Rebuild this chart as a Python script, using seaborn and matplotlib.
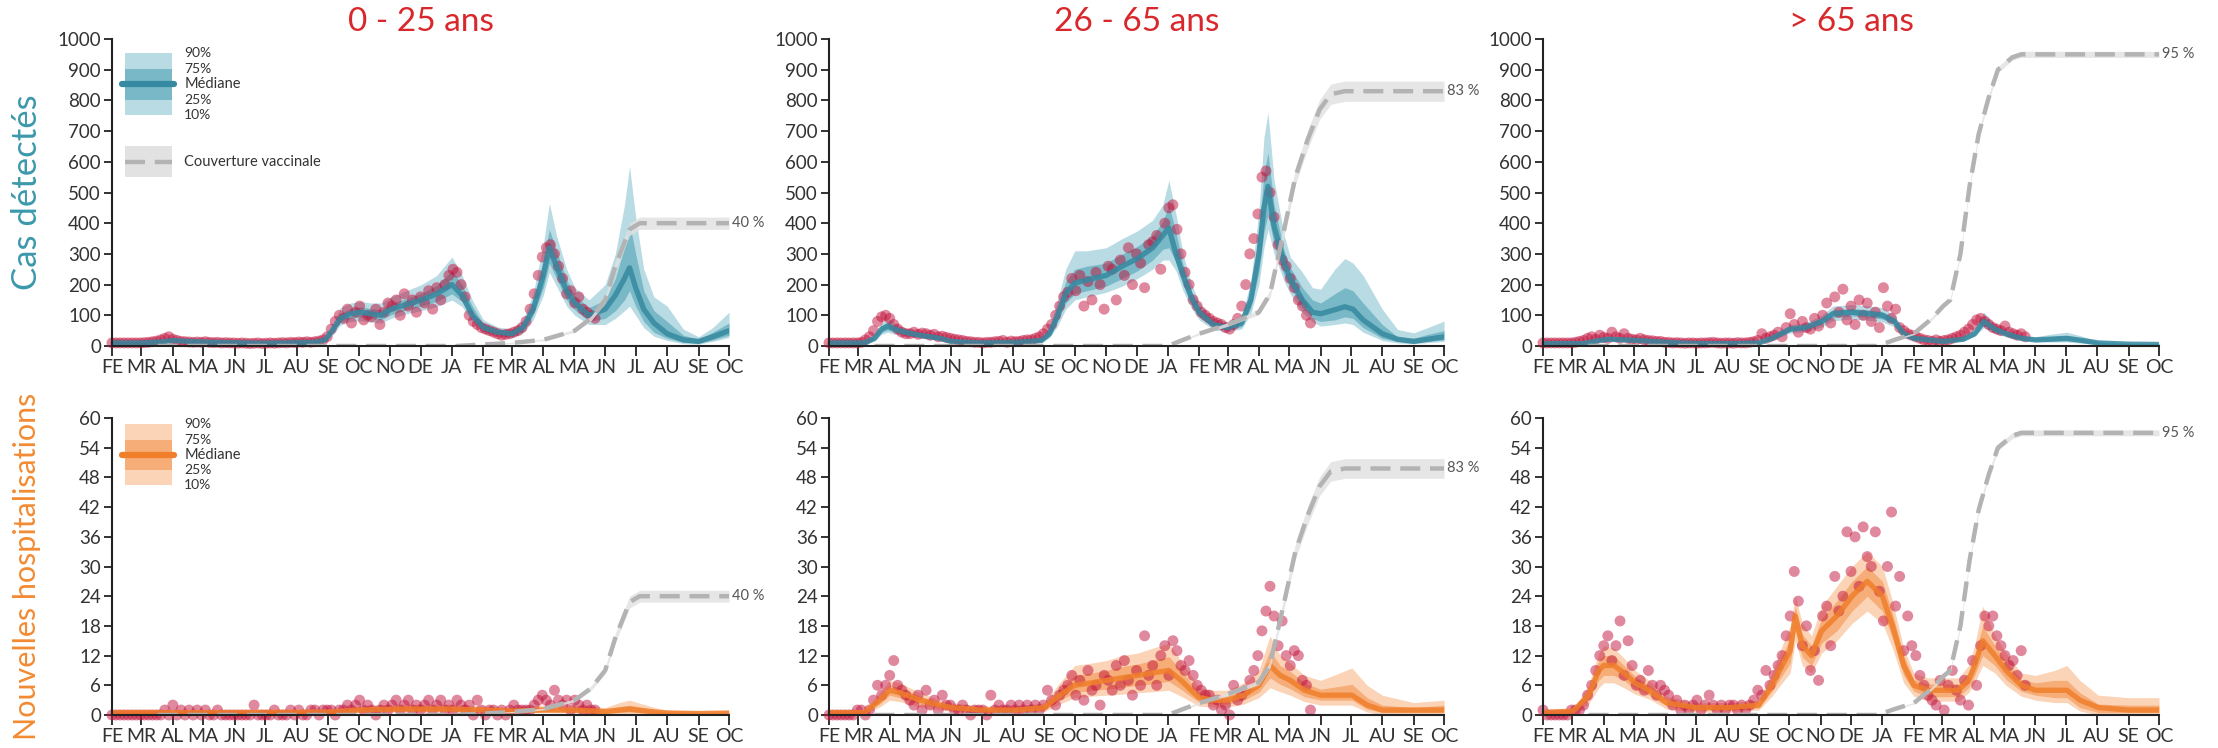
import numpy as np
import pandas as pd
import matplotlib
matplotlib.use("Agg")
import matplotlib.pyplot as plt
from matplotlib.patches import Rectangle
from matplotlib.lines import Line2D
import seaborn as sns

# ---------------- data ----------------
START = "2020-02-01"
END = "2021-10-01"
month_labels = ["FE", "MR", "AL", "MA", "JN", "JL", "AU", "SE", "OC", "NO", "DE",
                "JA", "FE", "MR", "AL", "MA", "JN", "JL", "AU", "SE", "OC"]
age_groups = ["0 - 25 ans", "26 - 65 ans", "> 65 ans"]
row_labels = ["Cas détectés", "Nouvelles hospitalisations"]
top_yticks = list(range(0, 1001, 100))
bottom_yticks = list(range(0, 61, 6))
legend_labels = ["90%", "75%", "Médiane", "25%", "10%"]
coverage_label = "Couverture vaccinale"

OBS_STEP = 4  # observed values every 4 days from 1 Feb 2020

# --- observed (red points) ---
cases_025_obs = [10, 10, 10, 10, 10, 10, 10, 10, 11, 12,
                 14, 16, 20, 25, 30, 22, 18, 15, 14, 13,
                 12, 13, 12, 14, 12, 11, 12, 10, 11, 10,
                 10, 9, 10, 9, 8, 9, 10, 8, 9, 10,
                 9, 10, 11, 10, 12, 11, 13, 12, 14, 12,
                 14, 16, 20, 30, 55, 80, 100, 90, 120, 75,
                 110, 130, 85, 100, 95, 120, 70, 110, 140, 130,
                 150, 100, 170, 130, 150, 110, 160, 140, 180, 120,
                 190, 150, 200, 230, 250, 240, 200, 160, 100, 80,
                 70, 60, 55, 50, 45, 40, 35, 38, 40, 45,
                 50, 60, 80, 120, 170, 230, 290, 320, 330, 300,
                 260, 220, 170, 180, 140, 160, 120, 110, 100, 90]
cases_2665_obs = [10, 10, 10, 10, 10, 10, 10, 10, 12, 20,
                  30, 50, 80, 95, 100, 90, 70, 55, 45, 40,
                  40, 45, 38, 42, 40, 35, 38, 30, 32, 28,
                  25, 22, 20, 18, 15, 14, 12, 12, 10, 12,
                  12, 14, 15, 18, 12, 16, 14, 15, 18, 20,
                  20, 25, 30, 40, 55, 70, 100, 130, 160, 175,
                  220, 180, 230, 130, 210, 150, 240, 200, 120, 260,
                  250, 150, 280, 230, 320, 200, 300, 270, 190, 330,
                  340, 360, 250, 400, 450, 460, 380, 300, 240, 200,
                  150, 130, 110, 100, 90, 80, 75, 70, 60, 55,
                  70, 90, 130, 200, 300, 350, 430, 550, 570, 500,
                  420, 330, 280, 260, 220, 190, 150, 130, 100, 75]
cases_65_obs = [10, 10, 10, 10, 10, 10, 10, 10, 12, 15,
                18, 25, 30, 22, 35, 28, 25, 45, 30, 25,
                40, 25, 22, 20, 25, 20, 18, 17, 15, 15,
                12, 12, 10, 11, 10, 9, 10, 10, 9, 10,
                10, 11, 12, 10, 9, 10, 10, 9, 11, 10,
                10, 12, 14, 18, 40, 25, 30, 35, 45, 30,
                60, 105, 70, 45, 80, 60, 55, 90, 65, 100,
                140, 75, 160, 110, 185, 85, 130, 70, 150, 100,
                140, 80, 110, 60, 190, 130, 90, 120, 60, 50,
                40, 35, 30, 25, 20, 18, 15, 20, 15, 18,
                20, 25, 30, 35, 45, 55, 70, 85, 90, 80,
                70, 60, 55, 50, 65, 45, 40, 35, 40, 30]
hosp_025_obs = [0, 0, 0, 0, 0, 0, 0, 0, 0, 0,
                0, 0, 0, 1, 0, 2, 0, 1, 0, 1,
                0, 1, 0, 1, 0, 0, 1, 0, 0, 0,
                0, 0, 0, 0, 0, 2, 0, 0, 0, 0,
                1, 0, 0, 0, 1, 0, 1, 0, 0, 1,
                1, 0, 1, 1, 1, 0, 1, 1, 2, 1,
                2, 3, 1, 2, 1, 0, 1, 2, 1, 2,
                3, 1, 2, 3, 1, 2, 1, 2, 3, 1,
                2, 3, 1, 2, 1, 3, 2, 1, 2, 0,
                3, 1, 0, 1, 1, 0, 1, 0, 1, 2,
                1, 1, 1, 1, 2, 3, 4, 3, 2, 5,
                3, 2, 3, 1, 3, 2, 1, 2, 1, 1]
hosp_2665_obs = [0, 0, 0, 0, 0, 0, 0, 1, 1, 0,
                 1, 3, 6, 4, 6, 8, 11, 6, 5, 4,
                 3, 2, 4, 1, 5, 2, 3, 1, 4, 2,
                 2, 1, 1, 2, 1, 0, 1, 1, 1, 0,
                 4, 1, 2, 1, 1, 2, 1, 2, 1, 2,
                 1, 2, 1, 2, 5, 3, 2, 4, 5, 6,
                 8, 4, 7, 3, 9, 5, 6, 2, 8, 7,
                 5, 10, 6, 11, 7, 4, 9, 6, 16, 8,
                 10, 6, 12, 14, 8, 15, 13, 10, 9, 11,
                 8, 6, 5, 4, 4, 2, 3, 1, 2, 0,
                 6, 3, 4, 5, 7, 9, 12, 17, 21, 26,
                 20, 14, 19, 12, 10, 13, 12, 7, 6, 1]
hosp_65_obs = [1, 0, 0, 0, 0, 0, 0, 1, 1, 1,
               2, 4, 6, 9, 12, 14, 16, 11, 14, 19,
               8, 15, 10, 6, 7, 5, 9, 6, 4, 6,
               5, 4, 2, 3, 1, 2, 1, 2, 3, 1,
               2, 4, 2, 1, 2, 1, 2, 2, 1, 2,
               1, 2, 3, 5, 4, 9, 6, 8, 10, 12,
               16, 20, 29, 23, 14, 18, 9, 13, 7, 20,
               22, 14, 28, 21, 24, 37, 29, 36, 26, 38,
               32, 30, 37, 25, 19, 30, 41, 22, 28, 13,
               20, 14, 12, 8, 6, 4, 3, 2, 7, 1,
               6, 9, 5, 3, 7, 2, 11, 6, 14, 20,
               18, 20, 16, 14, 12, 10, 11, 8, 13, 6]

# --- model quantiles (days since 1 Feb 2020) ---
cases_025_days = [0, 30, 50, 60, 75, 100, 150, 200, 210, 218, 225, 235, 245, 255, 265,
                  275, 290, 305, 320, 335, 345, 355, 366, 380, 394, 405, 415, 425, 431, 438,
                  448, 456, 470, 486, 496, 505, 510, 516, 524, 534, 547, 563, 578, 592, 608]
cases_025_med = [10, 10, 14, 18, 15, 12, 9, 12, 20, 55, 90, 105, 110, 105, 100,
                 120, 135, 150, 170, 200, 165, 100, 60, 45, 40, 60, 120, 230, 320, 260,
                 180, 140, 100, 120, 165, 220, 255, 190, 120, 75, 40, 20, 15, 30, 50]
cases_025_q90 = [14, 14, 20, 25, 20, 16, 13, 16, 28, 75, 125, 140, 145, 140, 140,
                 160, 180, 200, 230, 290, 230, 150, 85, 62, 55, 85, 170, 330, 465, 360,
                 250, 190, 150, 200, 300, 460, 585, 420, 250, 160, 130, 55, 30, 60, 110]
cases_025_q75 = [12, 12, 17, 21, 17, 14, 11, 14, 24, 65, 105, 122, 127, 122, 118,
                 138, 155, 172, 198, 245, 200, 130, 72, 53, 48, 72, 145, 280, 380, 310,
                 215, 165, 125, 150, 220, 320, 400, 300, 180, 115, 80, 35, 22, 45, 75]
cases_025_q25 = [8, 8, 11, 15, 13, 10, 7, 10, 16, 45, 78, 90, 95, 90, 85,
                 102, 118, 130, 145, 170, 145, 92, 50, 38, 33, 50, 100, 190, 270, 220,
                 150, 118, 80, 90, 115, 150, 180, 130, 80, 45, 25, 12, 9, 20, 35]
cases_025_q10 = [6, 6, 9, 12, 11, 8, 6, 8, 13, 38, 68, 80, 82, 78, 75,
                 90, 105, 115, 128, 150, 128, 80, 42, 32, 28, 42, 85, 165, 240, 195,
                 130, 100, 70, 70, 90, 115, 130, 100, 60, 32, 18, 8, 6, 15, 28]

cases_2665_days = [0, 35, 45, 52, 58, 65, 75, 90, 110, 121, 150, 185, 210, 218, 226,
                   234, 243, 255, 274, 290, 305, 320, 330, 336, 343, 350, 358, 366, 380, 394,
                   408, 417, 425, 430, 434, 440, 450, 456, 468, 478, 486, 500, 510, 518, 528,
                   547, 562, 578, 592, 608]
cases_2665_med = [10, 10, 25, 55, 65, 55, 45, 35, 25, 15, 10, 12, 18, 40, 100,
                  170, 205, 215, 230, 260, 285, 320, 360, 385, 300, 230, 160, 110, 70, 60,
                  75, 150, 300, 450, 520, 390, 270, 220, 150, 110, 105, 118, 128, 120, 85,
                  40, 22, 15, 22, 30]
cases_2665_q90 = [14, 14, 35, 75, 90, 75, 58, 45, 33, 21, 15, 18, 28, 60, 150,
                  250, 310, 310, 320, 350, 375, 410, 460, 540, 430, 300, 205, 140, 90, 78,
                  100, 210, 440, 680, 760, 540, 360, 290, 240, 190, 185, 250, 285, 270, 230,
                  120, 54, 43, 60, 81]
cases_2665_q75 = [12, 12, 30, 65, 78, 65, 52, 40, 29, 18, 12, 15, 23, 50, 125,
                  210, 250, 260, 270, 300, 325, 360, 405, 460, 370, 265, 180, 125, 80, 69,
                  88, 180, 370, 560, 630, 460, 310, 255, 190, 150, 140, 170, 190, 180, 140,
                  70, 30, 25, 38, 50]
cases_2665_q25 = [8, 8, 20, 45, 52, 45, 38, 30, 21, 12, 8, 9, 14, 32, 80,
                  140, 170, 180, 195, 220, 245, 280, 315, 320, 275, 200, 140, 95, 60, 52,
                  63, 125, 240, 370, 430, 330, 230, 190, 125, 90, 80, 85, 95, 90, 60,
                  25, 15, 10, 15, 20]
cases_2665_q10 = [6, 6, 16, 38, 45, 38, 33, 26, 18, 10, 6, 7, 11, 27, 65,
                  120, 150, 160, 175, 195, 220, 250, 280, 280, 245, 180, 125, 85, 53, 46,
                  56, 105, 200, 320, 380, 300, 210, 170, 110, 78, 65, 70, 75, 70, 45,
                  18, 10, 7, 11, 15]

cases_65_days = [0, 40, 55, 65, 80, 95, 121, 150, 185, 213, 226, 244, 259, 275, 286,
                 305, 323, 335, 347, 356, 366, 395, 415, 426, 435, 446, 457, 472, 486, 500,
                 517, 532, 548, 578, 608]
cases_65_med = [8, 8, 18, 22, 20, 18, 12, 8, 8, 10, 25, 55, 60, 80, 105,
                110, 105, 100, 80, 40, 25, 15, 22, 40, 80, 55, 40, 25, 20, 22,
                25, 18, 10, 6, 5]
cases_65_q90 = [10, 10, 24, 29, 26, 22, 15, 10, 10, 13, 32, 70, 75, 100, 130,
                135, 130, 125, 100, 52, 32, 19, 28, 50, 110, 72, 52, 33, 30, 38,
                45, 32, 16, 10, 9]
cases_65_q75 = [9, 9, 21, 26, 23, 20, 13, 9, 9, 11, 28, 62, 67, 90, 118,
                122, 117, 112, 90, 46, 28, 17, 25, 45, 95, 63, 46, 29, 25, 30,
                34, 24, 13, 8, 7]
cases_65_q25 = [7, 7, 15, 18, 17, 16, 11, 7, 7, 9, 22, 48, 53, 70, 92,
                98, 93, 88, 70, 34, 22, 13, 19, 35, 68, 47, 34, 21, 16, 16,
                17, 12, 7, 4, 3]
cases_65_q10 = [6, 6, 13, 16, 15, 14, 10, 6, 6, 8, 19, 42, 47, 62, 82,
                88, 83, 78, 62, 30, 19, 11, 17, 31, 60, 41, 30, 18, 13, 13,
                13, 9, 5, 3, 2]

hosp_025_days = [0, 60, 120, 213, 243, 280, 335, 366, 394, 425, 455, 486, 500, 510, 518,
                 535, 547, 578, 608]
hosp_025_med = [0.5, 0.5, 0.5, 0.6, 1.0, 1.2, 1.2, 1.0, 0.8, 1.0, 1.0, 0.7, 1.0, 1.2, 1.0,
                0.6, 0.4, 0.3, 0.4]
hosp_025_q90 = [0.8, 0.8, 0.8, 1.0, 1.8, 2.2, 2.2, 1.8, 1.5, 2.0, 2.0, 1.5, 2.5, 3.0, 2.5,
                1.5, 1.0, 0.8, 0.9]
hosp_025_q75 = [0.7, 0.7, 0.7, 0.8, 1.4, 1.7, 1.7, 1.4, 1.2, 1.5, 1.5, 1.1, 1.7, 2.0, 1.7,
                1.0, 0.7, 0.5, 0.6]
hosp_025_q25 = [0.3, 0.3, 0.3, 0.4, 0.7, 0.8, 0.8, 0.7, 0.5, 0.7, 0.6, 0.4, 0.5, 0.6, 0.5,
                0.3, 0.2, 0.1, 0.2]
hosp_025_q10 = [0.2, 0.2, 0.2, 0.3, 0.5, 0.6, 0.6, 0.5, 0.4, 0.5, 0.4, 0.2, 0.3, 0.3, 0.3,
                0.1, 0.1, 0.0, 0.1]

hosp_2665_days = [0, 35, 50, 60, 70, 90, 110, 121, 150, 185, 213, 228, 243, 260, 274,
                  290, 305, 320, 336, 348, 358, 366, 380, 394, 410, 425, 436, 446, 456, 470,
                  486, 505, 517, 532, 547, 578, 608]
hosp_2665_med = [0.5, 0.5, 3.0, 5.0, 4.5, 3.0, 2.0, 1.5, 1.0, 1.0, 1.5, 4.0, 6.0, 6.5, 7.0,
                 7.5, 8.0, 8.5, 9.0, 7.0, 5.0, 3.5, 3.0, 3.0, 4.0, 6.0, 10.0, 8.0, 7.0, 5.0,
                 4.0, 4.0, 4.0, 2.0, 1.0, 1.0, 1.0]
hosp_2665_q90 = [0.8, 0.8, 4.5, 7.0, 6.5, 4.5, 3.0, 2.5, 1.8, 1.8, 2.5, 6.5, 10.0, 10.5, 11.0,
                 12.0, 12.5, 13.5, 14.5, 11.0, 8.0, 5.5, 5.0, 5.0, 6.5, 9.0, 16.0, 12.0, 10.5, 8.0,
                 7.0, 8.5, 9.5, 6.0, 4.0, 2.5, 3.0]
hosp_2665_q75 = [0.7, 0.7, 3.8, 6.0, 5.5, 3.8, 2.5, 2.0, 1.4, 1.4, 2.0, 5.2, 8.0, 8.5, 9.0,
                 9.8, 10.3, 11.0, 11.8, 9.0, 6.5, 4.5, 4.0, 4.0, 5.3, 7.5, 13.0, 10.0, 8.8, 6.5,
                 5.2, 5.8, 6.2, 3.5, 2.0, 1.5, 2.0]
hosp_2665_q25 = [0.3, 0.3, 2.2, 4.0, 3.5, 2.2, 1.5, 1.0, 0.6, 0.6, 1.0, 3.0, 4.5, 5.0, 5.2,
                 5.6, 6.0, 6.3, 6.8, 5.2, 3.7, 2.6, 2.2, 2.2, 3.0, 4.6, 7.5, 6.2, 5.3, 3.7,
                 3.0, 3.0, 3.0, 1.2, 0.5, 0.5, 0.5]
hosp_2665_q10 = [0.2, 0.2, 1.6, 3.0, 2.7, 1.6, 1.0, 0.7, 0.4, 0.4, 0.7, 2.2, 3.5, 3.8, 4.0,
                 4.2, 4.5, 4.7, 5.0, 3.8, 2.7, 1.8, 1.6, 1.6, 2.2, 3.5, 5.5, 4.7, 4.0, 2.7,
                 2.0, 2.0, 2.0, 0.6, 0.0, 0.0, 0.0]

hosp_65_days = [0, 30, 45, 55, 60, 70, 80, 91, 105, 122, 150, 185, 213, 226, 236,
                244, 249, 256, 265, 275, 290, 305, 320, 335, 345, 356, 366, 380, 395, 410,
                420, 426, 434, 446, 457, 472, 486, 505, 517, 530, 548, 578, 608]
hosp_65_med = [0.5, 0.8, 4.0, 9.0, 10.0, 10.0, 8.5, 6.5, 5.0, 2.5, 1.5, 1.5, 2.0, 6.0, 10.0,
               13.0, 20.0, 14.0, 12.0, 17.0, 20.0, 24.0, 27.0, 24.0, 18.0, 10.0, 6.0, 5.0, 5.0, 5.0,
               7.0, 10.0, 15.0, 12.0, 9.0, 6.0, 5.0, 5.0, 5.0, 3.0, 1.5, 1.0, 1.0]
hosp_65_q90 = [0.8, 1.2, 6.0, 12.5, 14.0, 13.5, 11.5, 9.0, 7.0, 3.8, 2.5, 2.5, 3.0, 8.5, 14.0,
               18.0, 24.0, 18.5, 16.0, 22.0, 26.0, 30.0, 33.0, 30.0, 23.0, 13.5, 8.5, 7.5, 7.5, 7.5,
               10.0, 14.0, 22.0, 16.0, 12.5, 8.5, 8.0, 9.0, 10.0, 7.0, 4.0, 3.5, 3.5]
hosp_65_q75 = [0.7, 1.0, 5.0, 11.0, 12.0, 12.0, 10.0, 7.8, 6.0, 3.2, 2.0, 2.0, 2.6, 7.2, 12.0,
               15.5, 22.0, 16.3, 14.0, 19.5, 23.0, 27.0, 30.0, 27.0, 20.5, 12.0, 7.2, 6.3, 6.3, 6.3,
               8.5, 12.0, 18.0, 14.0, 10.8, 7.2, 6.5, 7.0, 7.0, 4.5, 2.2, 2.0, 2.0]
hosp_65_q25 = [0.3, 0.6, 3.0, 7.0, 8.0, 8.0, 7.0, 5.2, 4.0, 1.8, 1.0, 1.0, 1.4, 4.8, 8.0,
               10.5, 17.0, 11.7, 10.0, 14.5, 17.0, 21.0, 24.0, 21.0, 15.5, 8.0, 4.8, 3.7, 3.7, 3.7,
               5.5, 8.0, 12.0, 10.0, 7.2, 4.8, 4.0, 3.5, 3.5, 1.5, 0.5, 0.5, 0.5]
hosp_65_q10 = [0.2, 0.4, 2.2, 5.5, 6.5, 6.5, 5.5, 4.2, 3.2, 1.2, 0.6, 0.6, 1.0, 3.8, 6.5,
               8.5, 15.0, 10.0, 8.5, 12.5, 15.0, 18.5, 21.0, 18.5, 13.5, 6.5, 3.8, 2.8, 2.8, 2.8,
               4.5, 6.5, 10.0, 8.5, 6.0, 3.8, 3.0, 2.5, 2.5, 0.8, 0.0, 0.0, 0.0]

# --- vaccine coverage (%), with uncertainty half-width (%) ---
cov_025_days = [45, 340, 366, 394, 425, 456, 472, 486, 496, 503, 510, 520, 608]
cov_025_pct = [0, 0, 0.5, 1, 2, 5, 9, 15, 26, 32, 38, 40, 40]
cov_025_err = [0, 0, 0.1, 0.2, 0.3, 0.5, 0.8, 1.0, 1.5, 1.8, 2.0, 2.0, 2.0]
cov_2665_days = [45, 335, 350, 366, 394, 425, 436, 450, 461, 473, 485, 496, 510, 608]
cov_2665_pct = [0, 0, 2, 4, 7, 11, 17, 38, 55, 67, 77, 82, 83, 83]
cov_2665_err = [0, 0, 0.2, 0.4, 0.6, 0.8, 1.2, 2.0, 2.5, 3.0, 3.2, 3.3, 3.3, 3.3]
cov_65_days = [45, 330, 347, 366, 384, 395, 402, 412, 421, 430, 440, 449, 463, 472, 608]
cov_65_pct = [0, 0, 2, 4, 9, 13, 15, 30, 52, 69, 81, 90, 94, 95, 95]
cov_65_err = [0, 0, 0.2, 0.3, 0.5, 0.6, 0.7, 0.8, 0.9, 1.0, 1.0, 1.0, 1.0, 1.0, 1.0]

# ---------------- style ----------------
sns.set_theme(style="ticks")
plt.rcParams["font.family"] = ["Lato", "DejaVu Sans"]

TEAL = dict(light="#b8dbe4", mid="#79b8c6", line="#3589a0")
ORANGE = dict(light="#fbd3b6", mid="#f6ad78", line="#f07e2b")
RED_PTS = "#c2123c"
COV_LINE = "#b3b3b3"
COV_BAND = "#e2e2e2"
TITLE_RED = "#d8282c"
LABEL_TEAL = "#3b98ab"
LABEL_ORANGE = "#f28b32"
TXT = "#333333"

W, H = 2218, 748
fig = plt.figure(figsize=(W / 100, H / 100), dpi=100)

col_px = [(112, 729), (829, 1444), (1543, 2159)]
row_px = [(39, 346), (418, 715)]

start = pd.Timestamp(START)
months = pd.date_range(START, END, freq="MS")
tick_days = np.asarray((months - start).days)
xmax = (pd.Timestamp(END) - start).days

panels = {
    (0, 0): dict(obs=cases_025_obs, days=cases_025_days, med=cases_025_med, q10=cases_025_q10,
                 q25=cases_025_q25, q75=cases_025_q75, q90=cases_025_q90),
    (0, 1): dict(obs=cases_2665_obs, days=cases_2665_days, med=cases_2665_med, q10=cases_2665_q10,
                 q25=cases_2665_q25, q75=cases_2665_q75, q90=cases_2665_q90),
    (0, 2): dict(obs=cases_65_obs, days=cases_65_days, med=cases_65_med, q10=cases_65_q10,
                 q25=cases_65_q25, q75=cases_65_q75, q90=cases_65_q90),
    (1, 0): dict(obs=hosp_025_obs, days=hosp_025_days, med=hosp_025_med, q10=hosp_025_q10,
                 q25=hosp_025_q25, q75=hosp_025_q75, q90=hosp_025_q90),
    (1, 1): dict(obs=hosp_2665_obs, days=hosp_2665_days, med=hosp_2665_med, q10=hosp_2665_q10,
                 q25=hosp_2665_q25, q75=hosp_2665_q75, q90=hosp_2665_q90),
    (1, 2): dict(obs=hosp_65_obs, days=hosp_65_days, med=hosp_65_med, q10=hosp_65_q10,
                 q25=hosp_65_q25, q75=hosp_65_q75, q90=hosp_65_q90),
}
coverage = [
    (cov_025_days, cov_025_pct, cov_025_err),
    (cov_2665_days, cov_2665_pct, cov_2665_err),
    (cov_65_days, cov_65_pct, cov_65_err),
]

for r in range(2):
    ymax = 1000 if r == 0 else 60
    yticks = top_yticks if r == 0 else bottom_yticks
    pal = TEAL if r == 0 else ORANGE
    scale = ymax / 100.0
    for c in range(3):
        x0, x1 = col_px[c]
        yt, yb = row_px[r]
        ax = fig.add_axes([x0 / W, 1 - yb / H, (x1 - x0) / W, (yb - yt) / H])
        p = panels[(r, c)]
        d = np.asarray(p["days"], float)
        ax.fill_between(d, p["q10"], p["q90"], color=pal["light"], lw=0, zorder=1)
        ax.fill_between(d, p["q25"], p["q75"], color=pal["mid"], lw=0, zorder=2)
        obs = np.asarray(p["obs"], float)
        obs_x = np.arange(len(obs)) * OBS_STEP
        sns.scatterplot(x=obs_x, y=obs, ax=ax, color=RED_PTS, alpha=0.5, s=62,
                        edgecolor="none", zorder=3, clip_on=False)
        sns.lineplot(x=d, y=np.asarray(p["med"], float), ax=ax, color=pal["line"],
                     lw=3.8, alpha=0.85, zorder=4)
        # vaccine coverage
        cd, cp, ce = (np.asarray(v, float) for v in coverage[c])
        ax.fill_between(cd, (cp - ce) * scale, (cp + ce) * scale, color=COV_BAND,
                        alpha=0.85, lw=0, zorder=5)
        sns.lineplot(x=cd, y=cp * scale, ax=ax, color=COV_LINE, lw=3.2, zorder=6,
                     dashes=False).lines[-1].set_dashes((4.5, 2.2))
        ax.text(xmax + 3, cp[-1] * scale, f"{int(cp[-1])} %", ha="left", va="center",
                fontsize=10.5, color="#555555", clip_on=False)

        ax.set_xlim(0, xmax)
        ax.set_ylim(0, ymax)
        ax.set_xticks(tick_days)
        ax.set_xticklabels(month_labels)
        ax.set_yticks(yticks)
        ax.set_yticklabels([str(v) for v in yticks])
        ax.tick_params(axis="x", length=7, width=1.3, colors="#222222", labelsize=14,
                       labelcolor=TXT, pad=2)
        ax.tick_params(axis="y", length=6, width=1.3, colors="#222222", labelsize=13.5,
                       labelcolor=TXT, pad=2)
        for s in ["top", "right"]:
            ax.spines[s].set_visible(False)
        for s in ["left", "bottom"]:
            ax.spines[s].set_linewidth(1.5)
            ax.spines[s].set_color("#222222")
            ax.spines[s].set_zorder(7)
        ax.set_xlabel("")
        ax.set_ylabel("")
        ax.grid(False)

        if r == 0:
            fig.text((x0 + x1) / 2 / W, 1 - 22 / H, age_groups[c], ha="center", va="center",
                     fontsize=24, color=TITLE_RED)

        if c == 0:
            # legend drawn in axes coordinates
            tr = ax.transAxes
            if r == 0:
                top, q75y, my, q25y, bot = 0.954, 0.902, 0.853, 0.801, 0.752
            else:
                top, q75y, my, q25y, bot = 0.980, 0.926, 0.875, 0.825, 0.774
            bx0, bx1 = 0.021, 0.097
            ax.add_patch(Rectangle((bx0, bot), bx1 - bx0, top - bot, transform=tr,
                                   color=pal["light"], lw=0, zorder=8))
            ax.add_patch(Rectangle((bx0, q25y), bx1 - bx0, q75y - q25y, transform=tr,
                                   color=pal["mid"], lw=0, zorder=9))
            ax.add_line(Line2D([bx0 - 0.004, bx1 + 0.004], [my, my], transform=tr,
                               color=pal["line"], lw=4.5, zorder=10))
            for lab, yy in zip(legend_labels, [top, q75y, my, q25y, bot]):
                ax.text(0.117, yy, lab, transform=tr, ha="left", va="center",
                        fontsize=10 if lab != "Médiane" else 10.5, color=TXT, zorder=10)
            if r == 0:
                ax.add_patch(Rectangle((bx0, 0.550), bx1 - bx0, 0.101, transform=tr,
                                       color=COV_BAND, lw=0, zorder=8))
                ax.add_line(Line2D([bx0, bx1], [0.600, 0.600], transform=tr,
                                   color=COV_LINE, lw=3.2, dashes=(4.5, 2.2), zorder=9))
                ax.text(0.117, 0.600, coverage_label, transform=tr, ha="left",
                        va="center", fontsize=10.5, color=TXT, zorder=10)

            fig.text(27 / W, 1 - (yt + yb) / 2 / H, row_labels[r], rotation=90,
                     ha="center", va="center", fontsize=25 if r == 0 else 22,
                     color=LABEL_TEAL if r == 0 else LABEL_ORANGE)

fig.savefig("out.png", dpi=100)
